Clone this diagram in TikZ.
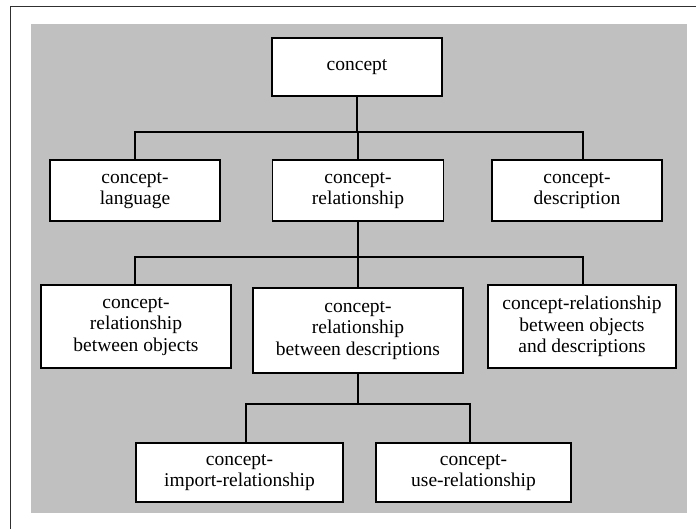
\documentclass[tikz,border=0pt]{standalone}
\usepackage{fontspec}
\setmainfont{Liberation Serif}
\definecolor{panelgrey}{HTML}{C0C0C0}
\definecolor{framegrey}{HTML}{303030}
\begin{document}
\begin{tikzpicture}[x=1pt,y=-1pt,
  box/.style={draw=black, line width=1.6pt, fill=white, inner sep=0pt,
    align=center, font=\fontsize{19.5}{21.5}\selectfont, anchor=center},
  link/.style={draw=black, line width=1.6pt}]
  \useasboundingbox (0,0) rectangle (696,529);
  % outer frame (left and top edges)
  \draw[framegrey, line width=1pt] (10,529) -- (10,7) -- (696,7);
  % grey panel
  \fill[panelgrey] (31,24) rectangle (687,513);

  % bus levels
  \coordinate (b1) at (0,132);
  \coordinate (b2) at (0,257);
  \coordinate (b3) at (0,404);

  % level 1
  \node[box, minimum width=170pt, minimum height=58pt] (concept) at (357,67) {concept};
  % level 2
  \node[box, minimum width=170pt, minimum height=61pt] (lang) at (135,190.5) {concept-\\language};
  \node[box, minimum width=171pt, minimum height=61pt] (rel) at (358,190.5) {concept-\\relationship};
  \node[box, minimum width=170pt, minimum height=61pt] (desc) at (577,190.5) {concept-\\description};
  % level 3
  \node[box, minimum width=190pt, minimum height=83pt] (obj) at (136,326.5) {concept-\\relationship\\between objects};
  \node[box, minimum width=210pt, minimum height=85pt] (bdesc) at (358,330.5) {concept-\\relationship\\between descriptions};
  \node[box, minimum width=188pt, minimum height=83pt] (objdesc) at (582,326.5) {concept-relationship\\between objects\\and descriptions};
  % level 4
  \node[box, minimum width=207pt, minimum height=59pt] (imp) at (239.5,472.5) {concept-\\import-relationship};
  \node[box, minimum width=195pt, minimum height=59pt] (use) at (473.5,472.5) {concept-\\use-relationship};

  % connectors
  \draw[link] (concept.south) -- (concept.south |- b1) -| (lang.north);
  \draw[link] (concept.south) -- (concept.south |- b1) -| (rel.north);
  \draw[link] (concept.south) -- (concept.south |- b1) -| ([xshift=6pt]desc.north);

  \draw[link] (rel.south) -- (rel.south |- b2) -| ([xshift=-1pt]obj.north);
  \draw[link] (rel.south) -- (rel.south |- b2) -| (bdesc.north);
  \draw[link] (rel.south) -- (rel.south |- b2) -| ([xshift=1pt]objdesc.north);

  \draw[link] (bdesc.south) -- (bdesc.south |- b3) -| ([xshift=6.5pt]imp.north);
  \draw[link] (bdesc.south) -- (bdesc.south |- b3) -| ([xshift=-3.5pt]use.north);
\end{tikzpicture}
\end{document}
